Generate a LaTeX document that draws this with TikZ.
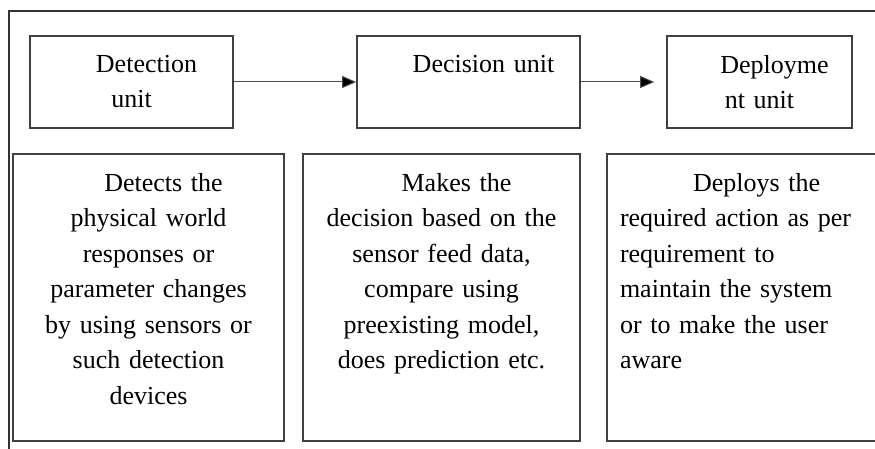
\documentclass[tikz,border=0pt]{standalone}
\usepackage{fontspec}
\setmainfont{Liberation Serif}
\usetikzlibrary{arrows.meta, positioning}

\begin{document}
\begin{tikzpicture}[x=1pt, y=-1pt,
  unit/.style    = {draw=black!75, line width=1.6pt, minimum height=92pt, inner sep=0pt},
  info/.style    = {draw=black!75, line width=1.6pt, minimum height=287pt, inner sep=0pt},
  unittext/.style= {inner sep=0pt, align=center, font=\fontsize{26}{35}\selectfont},
  infotext/.style= {inner sep=0pt, align=center, font=\fontsize{26}{35.5}\selectfont},
  flow/.style    = {draw=black!70, line width=1pt, -{Triangle[length=14pt, width=12pt, fill=black]}}]

\useasboundingbox (0,0) rectangle (875,449);
\clip (0,0) rectangle (875,449);

% outer frame
\draw [black!80, line width=1.6pt] (875,11) -- (9,11) -- (9,449);

% units
\node [unit, minimum width=203pt] (det) at (131.5,82) {};
\node [unit, minimum width=223pt] (dec) at (468.5,82) {};
\node [unit, minimum width=185pt] (dep) at (759.5,82) {};

\node [unittext, text width=190pt, below=20pt of det.north] (dett) {\hspace*{30pt}Detection\\unit};
\node [unittext, text width=210pt, below=20pt of dec.north] (dect) {\hspace*{30pt}Decision unit};
\node [unittext, text width=175pt, below=20pt of dep.north] (dept) {\hspace*{30pt}Deployme\\nt unit};

% descriptions
\node [info, minimum width=271pt] (deti) at (148.5,297.5) {};
\node [info, minimum width=277pt] (deci) at (441.5,297.5) {};
\node [info, minimum width=271pt] (depi) at (742.5,297.5) {};

\node [infotext, text width=255pt, below=20pt of deti.north] (detit)
  {\hspace*{30pt}Detects the\\physical world\\responses or\\parameter changes\\by using sensors or\\such detection\\devices};
\node [infotext, text width=260pt, below=20pt of deci.north] (decit)
  {\hspace*{30pt}Makes the\\decision based on the\\sensor feed data,\\compare using\\preexisting model,\\does prediction etc.};
\node [infotext, text width=245pt, align=left, below=20pt of depi.north] (depit)
  {\hspace*{73pt}Deploys the\\required action as per\\requirement to\\maintain the system\\or to make the user\\aware};

\path [flow] (det) edge (dec);
\path [flow, shorten >=12pt] (dec) edge (dep);

\end{tikzpicture}
\end{document}
